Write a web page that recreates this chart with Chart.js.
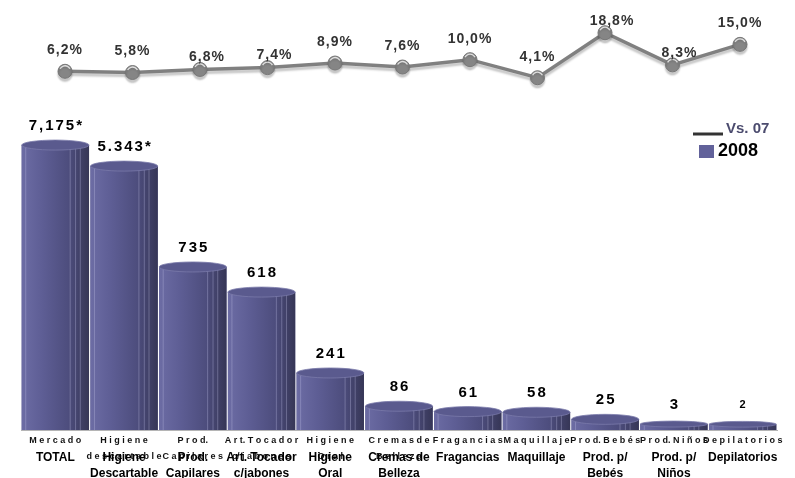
<!DOCTYPE html>
<html>
<head>
<meta charset="utf-8">
<script src="https://cdn.jsdelivr.net/npm/chart.js@4/dist/chart.umd.min.js"></script>
<style>
html,body{margin:0;padding:0;background:#fff;}
canvas{display:block;}
</style>
</head>
<body>
<canvas id="c" width="795" height="478"></canvas>
<script>
// ---- data ----
const smallLabels = [['M e r c a d o'],['H i g i e n e','d e s c a r t a b l e'],['P r o d.','C a p i l a r e s'],['A r t. T o c a d o r','c/ j a b o n e s'],['H i g i e n e','O r a l'],['C r e m a s d e','B e l l e z a'],['F r a g a n c i a s'],['M a q u i l l a j e'],['P r o d. B e b é s'],['P r o d. N i ñ o s'],['D e p i l a t o r i o s']];
const boldLabels = [['TOTAL'],['Higiene','Descartable'],['Prod.','Capilares'],['Art. Tocador','c/jabones'],['Higiene','Oral'],['Cremas de','Belleza'],['Fragancias'],['Maquillaje'],['Prod. p/','Bebés'],['Prod. p/','Niños'],['Depilatorios']];
// bar heights as drawn (first two bars are drawn on a broken scale)
const barHeights = [1303, 1205, 735, 618, 241, 86, 61, 58, 25, 3, 2];
const barValueText = ['7,175*','5.343*','735','618','241','86','61','58','25','3','2'];
const growth = [6.2, 5.8, 6.8, 7.4, 8.9, 7.6, 10.0, 4.1, 18.8, 8.3, 15.0];
const growthText = growth.map(v => v.toFixed(1).replace('.', ',') + '%');

const BAR_MIN = -24.7;
Chart.defaults.font.family = '"Liberation Sans", Arial, sans-serif';

const cylinder = {
  id: 'cylinder',
  beforeDatasetDraw(chart, args) {
    if (args.index === 1) {
      chart.ctx.save();
      chart.ctx.shadowColor = 'rgba(0,0,0,0.22)';
      chart.ctx.shadowOffsetY = 3;
      chart.ctx.shadowBlur = 2;
    }
  },
  afterDatasetDraw(chart, args) {
    const ctx = chart.ctx;
    if (args.index === 0) {
      const meta = chart.getDatasetMeta(0);
      meta.data.forEach((el, i) => {
        const p = el.getProps(['x','y','base','width'], true);
        const w = p.width, left = p.x - w/2, h = p.base - p.y;
        ctx.save();
        const g = ctx.createLinearGradient(left, 0, left + w, 0);
        g.addColorStop(0, '#6c6ca4');
        g.addColorStop(0.3, '#5e5e95');
        g.addColorStop(0.7, '#4d4d7d');
        g.addColorStop(1, '#363656');
        ctx.fillStyle = g;
        ctx.fillRect(left, p.y, w, h);
        ctx.strokeStyle = 'rgba(190,190,225,0.35)';
        ctx.lineWidth = 1;
        [0.06, 0.72, 0.8, 0.87].forEach(f => {
          ctx.beginPath();
          ctx.moveTo(left + w*f, p.y);
          ctx.lineTo(left + w*f, p.base);
          ctx.stroke();
        });
        const ry = Math.min(5, Math.max(2, h/2));
        ctx.beginPath();
        ctx.ellipse(p.x, p.y, w/2, ry, 0, 0, Math.PI*2);
        ctx.fillStyle = '#5a5a8e';
        ctx.fill();
        ctx.strokeStyle = '#7a7aaa';
        ctx.lineWidth = 0.8;
        ctx.stroke();
        ctx.fillStyle = '#000';
        ctx.font = (i === barValueText.length - 1 ? 'bold 11px ' : 'bold 15px ') + '"Liberation Sans", Arial, sans-serif';
        ctx.letterSpacing = '2px';
        ctx.textAlign = 'center';
        ctx.textBaseline = 'middle';
        ctx.fillText(barValueText[i], p.x + 1, p.y - 19);
        ctx.restore();
      });
    }
    if (args.index === 1) {
      ctx.restore(); // end shadow
      const meta = chart.getDatasetMeta(1);
      meta.data.forEach((el, i) => {
        ctx.save();
        ctx.beginPath();
        ctx.arc(el.x, el.y, 5.5, -Math.PI*0.85, -Math.PI*0.15);
        ctx.strokeStyle = 'rgba(255,255,255,0.75)';
        ctx.lineWidth = 1.3;
        ctx.stroke();
        const nudged = [2,3,8,9].includes(i);
        ctx.fillStyle = '#333';
        ctx.font = 'bold 14px "Liberation Sans", Arial, sans-serif';
        ctx.letterSpacing = '1px';
        ctx.textAlign = 'center';
        ctx.textBaseline = 'middle';
        ctx.fillText(growthText[i], el.x + (nudged ? 7 : 0), el.y - (nudged ? 12 : 21));
        ctx.restore();
      });
    }
  },
  afterDraw(chart) {
    const ctx = chart.ctx;
    ctx.save();
    ctx.strokeStyle = '#333';
    ctx.lineWidth = 3;
    ctx.beginPath();
    ctx.moveTo(693, 134);
    ctx.lineTo(723, 134);
    ctx.stroke();
    ctx.fillStyle = '#4b4b6e';
    ctx.font = 'bold 15px "Liberation Sans", Arial, sans-serif';
    ctx.textBaseline = 'middle';
    ctx.textAlign = 'left';
    ctx.fillText('Vs. 07', 726, 129);
    ctx.fillStyle = '#62629a';
    ctx.fillRect(699, 145, 15, 13);
    ctx.fillStyle = '#000';
    ctx.font = 'bold 18px "Liberation Sans", Arial, sans-serif';
    ctx.fillText('2008', 718, 151);
    ctx.restore();
  }
};

new Chart(document.getElementById('c'), {
  data: {
    labels: smallLabels,
    datasets: [
      {
        type: 'bar',
        data: barHeights,
        base: BAR_MIN,
        backgroundColor: '#55558a',
        categoryPercentage: 1,
        barPercentage: 0.98,
        grouped: false,
        xAxisID: 'x',
        yAxisID: 'y',
        order: 2
      },
      {
        type: 'line',
        data: growth.map((v, i) => ({x: i, y: v})),
        borderColor: '#808080',
        borderWidth: 3.5,
        pointRadius: 7,
        pointBackgroundColor: '#858585',
        pointBorderColor: '#777',
        pointBorderWidth: 1,
        xAxisID: 'x2',
        yAxisID: 'y2',
        order: 1,
        clip: false
      }
    ]
  },
  options: {
    responsive: false,
    animation: false,
    devicePixelRatio: 1,
    layout: { autoPadding: false, padding: { left: 21, right: 18, top: 0, bottom: 0 } },
    plugins: { legend: { display: false }, tooltip: { enabled: false } },
    scales: {
      x: {
        type: 'category',
        position: 'bottom',
        weight: 0,
        offset: true,
        grid: { display: false, drawTicks: false },
        border: { display: true, color: '#b5b5b5', width: 1 },
        ticks: { autoSkip: false, maxRotation: 0, minRotation: 0, padding: 2, color: '#111',
                 font: { size: 9, weight: 'bold', lineHeight: 1.85 } },
        afterFit(s) { s.height = 18; s._computeLabelArea = () => null; }
      },
      xb: {
        type: 'category',
        position: 'bottom',
        weight: 1,
        offset: true,
        labels: boldLabels,
        grid: { display: false, drawTicks: false },
        border: { display: false },
        ticks: { autoSkip: false, maxRotation: 0, minRotation: 0, padding: 2, color: '#000',
                 font: { size: 12, weight: 'bold', lineHeight: 1.3 } },
        afterFit(s) { s.height = 30; }
      },
      x2: {
        type: 'linear',
        display: false,
        min: -0.652,
        max: 10.548
      },
      y: {
        display: false,
        min: BAR_MIN,
        max: 1979
      },
      y2: {
        display: false,
        min: -111.0,
        max: 29.49
      }
    }
  },
  plugins: [cylinder]
});
</script>
</body>
</html>
